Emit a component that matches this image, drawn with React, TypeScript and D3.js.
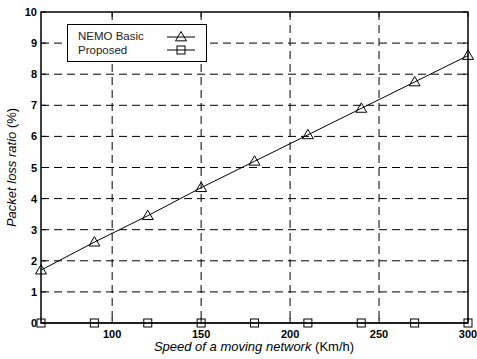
import React from "react";
import * as d3 from "d3";

const speeds = [60, 90, 120, 150, 180, 210, 240, 270, 300];
const nemoBasic = [1.7, 2.6, 3.45, 4.35, 5.2, 6.05, 6.9, 7.75, 8.6];
const proposed = [0, 0, 0, 0, 0, 0, 0, 0, 0];
const xTicks = [100, 150, 200, 250, 300];
const yTicks = [0, 1, 2, 3, 4, 5, 6, 7, 8, 9, 10];
const seriesNames = ["NEMO Basic", "Proposed"];

const W = 477, H = 359;
const L = 41, R = 468, T = 12, B = 323;

function Tri({ cx, cy }: { cx: number; cy: number }) {
  const s = 5.5;
  return <path d={`M${cx},${cy - s} L${cx + s},${cy + s * 0.7} L${cx - s},${cy + s * 0.7} Z`} fill="none" stroke="#000" strokeWidth={1} />;
}
function Sq({ cx, cy }: { cx: number; cy: number }) {
  const s = 4;
  return <rect x={cx - s} y={cy - s} width={2 * s} height={2 * s} fill="none" stroke="#000" strokeWidth={1} />;
}

export default function App() {
  const x = d3.scaleLinear().domain([60, 300]).range([L, R]);
  const y = d3.scaleLinear().domain([0, 10]).range([B, T]);
  const line = d3.line<number>().x((_, i) => x(speeds[i])).y((d) => y(d));
  const font = "Arial, 'Liberation Sans', sans-serif";
  return (
    <svg width={W} height={H} style={{ position: "absolute", left: 0, top: 0 }} fontFamily={font}>
      <rect x={0} y={0} width={W} height={H} fill="#fff" />
      {/* grid */}
      {xTicks.filter((t) => t < 300).map((t) => (
        <line key={"gx" + t} x1={x(t)} x2={x(t)} y1={T} y2={B} stroke="#000" strokeWidth={1} strokeDasharray="8,5" />
      ))}
      {yTicks.filter((t) => t > 0 && t < 10).map((t) => (
        <line key={"gy" + t} x1={L} x2={R} y1={y(t)} y2={y(t)} stroke="#000" strokeWidth={1} strokeDasharray="8,5" />
      ))}
      {/* ticks */}
      {xTicks.map((t) => (
        <g key={"tx" + t}>
          <line x1={x(t)} x2={x(t)} y1={B} y2={B - 5} stroke="#000" />
          <line x1={x(t)} x2={x(t)} y1={T} y2={T + 5} stroke="#000" />
          <text x={x(t)} y={B + 15} textAnchor="middle" fontSize={11} fontWeight="bold">{t}</text>
        </g>
      ))}
      {yTicks.map((t) => (
        <g key={"ty" + t}>
          <line x1={L} x2={L + 5} y1={y(t)} y2={y(t)} stroke="#000" />
          <line x1={R} x2={R - 5} y1={y(t)} y2={y(t)} stroke="#000" />
          <text x={L - 4} y={y(t) + 4} textAnchor="end" fontSize={11} fontWeight="bold">{t}</text>
        </g>
      ))}
      {/* frame */}
      <rect x={L} y={T} width={R - L} height={B - T} fill="none" stroke="#000" strokeWidth={1.5} />
      {/* series */}
      <path d={line(nemoBasic) || ""} fill="none" stroke="#000" strokeWidth={1} />
      <path d={line(proposed) || ""} fill="none" stroke="#000" strokeWidth={1} />
      {nemoBasic.map((v, i) => <Tri key={"a" + i} cx={x(speeds[i])} cy={y(v)} />)}
      {proposed.map((v, i) => <Sq key={"b" + i} cx={x(speeds[i])} cy={y(v)} />)}
      {/* legend */}
      <rect x={67.5} y={24.5} width={139} height={37} fill="#fff" stroke="#000" strokeWidth={1} />
      <text x={78} y={40} fontSize={11.5} fill="#222">{seriesNames[0]}</text>
      <text x={78} y={54} fontSize={11.5} fill="#222">{seriesNames[1]}</text>
      <line x1={167} x2={195} y1={37} y2={37} stroke="#000" />
      <Tri cx={181} cy={37} />
      <line x1={167} x2={195} y1={50} y2={50} stroke="#000" />
      <Sq cx={181} cy={50} />
      {/* axis labels */}
      <text x={254} y={351} textAnchor="middle" fontSize={13}>
        <tspan fontStyle="italic">Speed of a moving network</tspan> (Km/h)
      </text>
      <text transform={`translate(16,${(T + B) / 2}) rotate(-90)`} textAnchor="middle" fontSize={13}>
        <tspan fontStyle="italic">Packet loss ratio</tspan> (%)
      </text>
    </svg>
  );
}
